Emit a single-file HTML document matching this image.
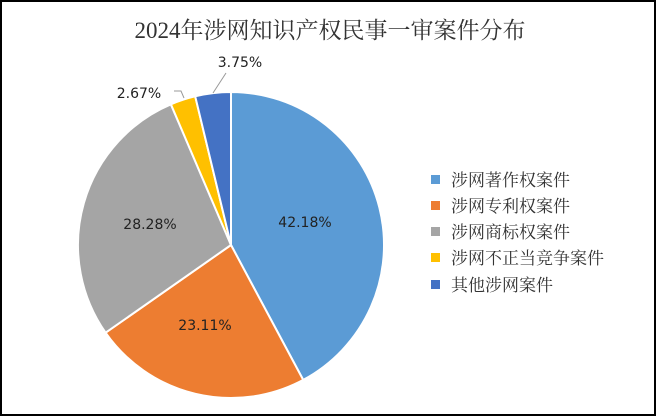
<!DOCTYPE html>
<html><head><meta charset="utf-8"><style>
body{margin:0;background:#fff}
svg{display:block}
</style></head><body>
<svg width="660" height="417" xmlns="http://www.w3.org/2000/svg">
<rect x="0" y="0" width="660" height="417" fill="#fff"/>
<rect x="1" y="1" width="654" height="414" fill="none" stroke="#000" stroke-width="2"/>
<text x="330" y="38" text-anchor="middle" font-family="'Liberation Serif','Noto Serif CJK SC',serif" font-size="23" fill="#333">2024年涉网知识产权民事一审案件分布</text>
<g stroke="#fff" stroke-width="2" stroke-linejoin="round">
<path d="M231,245 L231,92 A153,153 0 0 1 303.2,379.9 Z" fill="#5b9bd5"/>
<path d="M231,245 L303.2,379.9 A153,153 0 0 1 105.6,332.7 Z" fill="#ed7d31"/>
<path d="M231,245 L105.6,332.7 A153,153 0 0 1 170.9,104.3 Z" fill="#a5a5a5"/>
<path d="M231,245 L170.9,104.3 A153,153 0 0 1 195.2,96.3 Z" fill="#ffc000"/>
<path d="M231,245 L195.2,96.3 A153,153 0 0 1 231,92 Z" fill="#4472c4"/>
</g>
<g font-family="'DejaVu Sans','Liberation Sans',sans-serif" font-size="14" fill="#222" text-anchor="middle">
<text x="305" y="227">42.18%</text>
<text x="205" y="330">23.11%</text>
<text x="150" y="229">28.28%</text>
<text x="139" y="98">2.67%</text>
<text x="240" y="67">3.75%</text>
</g>
<polyline points="174,91 181,91 184,98" fill="none" stroke="#999" stroke-width="1"/>
<line x1="226" y1="73" x2="213" y2="93" stroke="#999" stroke-width="1"/>
<g font-family="'Liberation Serif','Noto Serif CJK SC',serif" font-size="17" fill="#333">
<rect x="431" y="175" width="9" height="9" fill="#5b9bd5"/><text x="451" y="186">涉网著作权案件</text>
<rect x="431" y="201" width="9" height="9" fill="#ed7d31"/><text x="451" y="212">涉网专利权案件</text>
<rect x="431" y="227" width="9" height="9" fill="#a5a5a5"/><text x="451" y="238">涉网商标权案件</text>
<rect x="431" y="253" width="9" height="9" fill="#ffc000"/><text x="451" y="264">涉网不正当竞争案件</text>
<rect x="431" y="280" width="9" height="9" fill="#4472c4"/><text x="451" y="291">其他涉网案件</text>
</g>
</svg>
</body></html>
